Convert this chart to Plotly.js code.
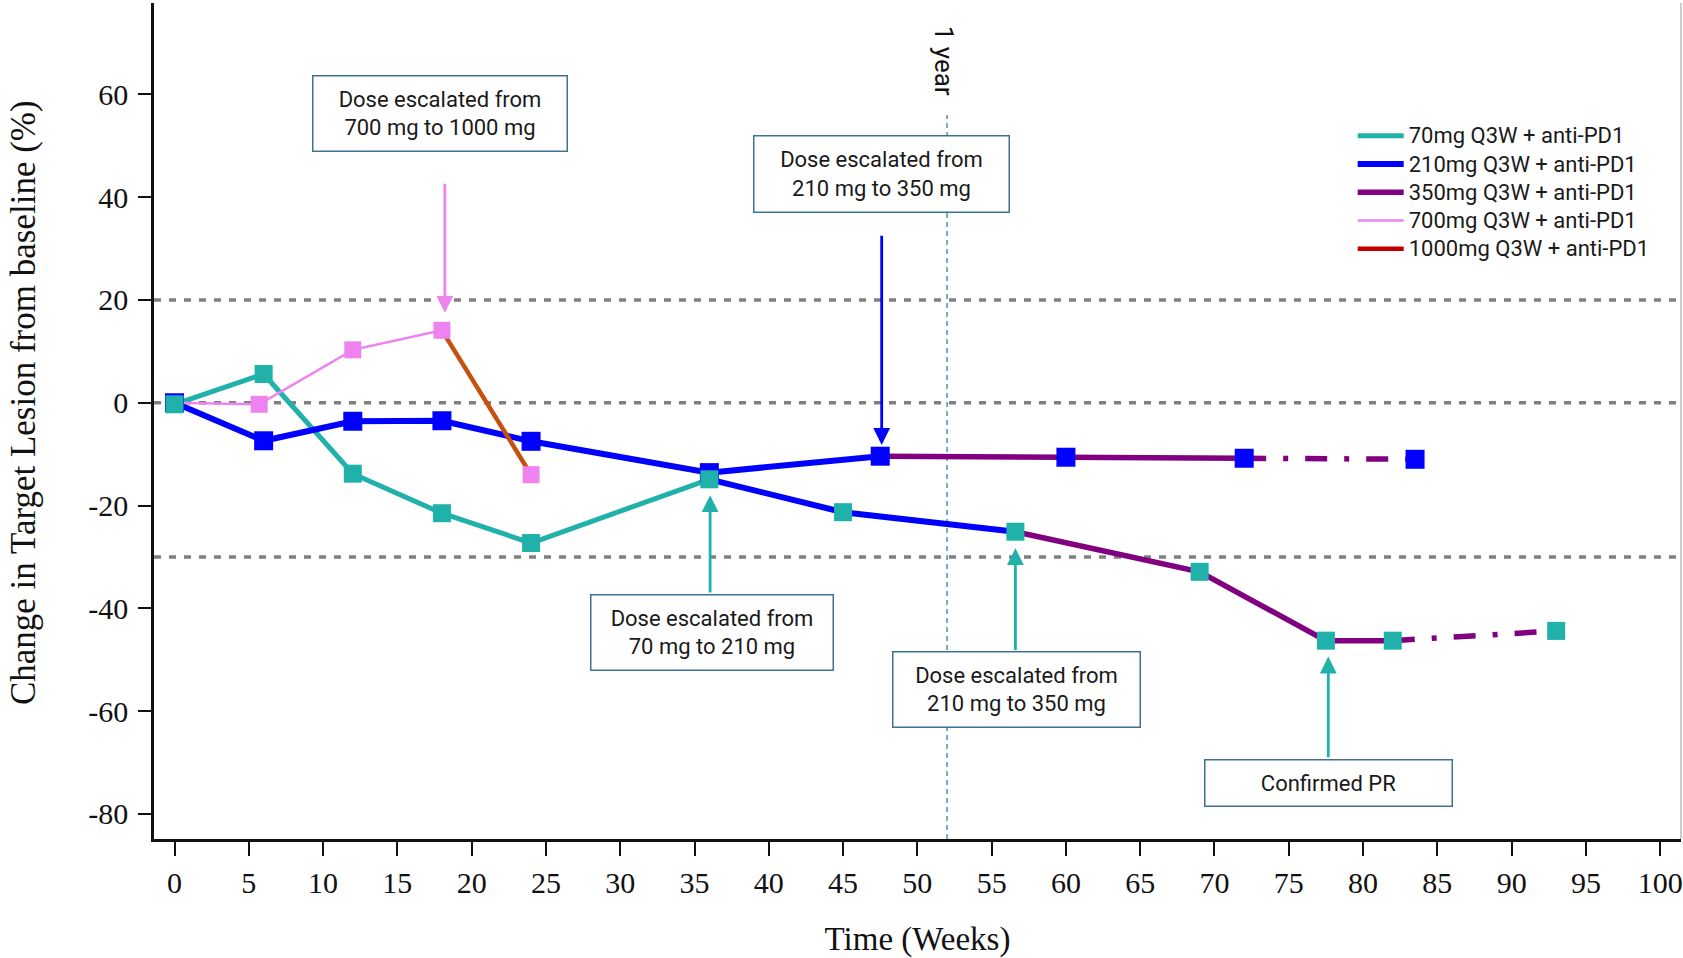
<!DOCTYPE html>
<html>
<head>
<meta charset="utf-8">
<script src="https://cdn.plot.ly/plotly-3.0.1.min.js"></script>
<style>
  html, body { margin: 0; padding: 0; background: #ffffff; }
  #chart { width: 1683px; height: 958px; }
</style>
</head>
<body>
<div id="chart"></div>
<script>
// ---------------- data ----------------
// Patient A: started on 70mg, escalated to 210mg (wk 36), then 350mg (wk ~56.6)
const weeksA = [0, 6, 12, 18, 24, 36, 45, 56.6, 69, 77.5, 82, 93];
const pctA   = [-0.3, 5.6, -13.8, -21.5, -27.3, -14.9, -21.3, -25.1, -32.9, -46.3, -46.3, -44.4];
// Patient B: started on 210mg, escalated to 350mg (wk 47.5)
const weeksB = [0, 6, 12, 18, 24, 36, 47.5, 60, 72, 83.5];
const pctB   = [0, -7.4, -3.6, -3.5, -7.5, -13.6, -10.4, -10.6, -10.8, -11.0];
// Patient C: started on 700mg, escalated to 1000mg (wk 18)
const weeksC = [0, 5.7, 12, 18, 24];
const pctC   = [0, -0.3, 10.3, 14.1, -14.0];

// dose segments: [first index, last index, dose, solid/followup]
const segA = [[0, 5, '70mg', 'solid'], [5, 7, '210mg', 'solid'], [7, 10, '350mg', 'solid'], [10, 11, '350mg', 'followup']];
const segB = [[0, 6, '210mg', 'solid'], [6, 8, '350mg', 'solid'], [8, 9, '350mg', 'followup']];
const segC = [[0, 3, '700mg', 'solid'], [3, 4, '1000mg', 'solid']];

const doses = ['70mg', '210mg', '350mg', '700mg', '1000mg'];
const legendNames = ['70mg Q3W + anti-PD1', '210mg Q3W + anti-PD1', '350mg Q3W + anti-PD1',
                     '700mg Q3W + anti-PD1', '1000mg Q3W + anti-PD1'];

const xTicks = [0, 5, 10, 15, 20, 25, 30, 35, 40, 45, 50, 55, 60, 65, 70, 75, 80, 85, 90, 95, 100];
const yTicks = [-80, -60, -40, -20, 0, 20, 40, 60];
const refLines = [20, 0, -30];
const oneYear = 52;
const xTitle = 'Time (Weeks)';
const yTitle = 'Change in Target Lesion from baseline (%)';

// ---------------- styles ----------------
const doseColor = { '70mg': '#20B2AA', '210mg': '#0000FF', '350mg': '#800080', '700mg': '#EE82EE', '1000mg': '#C00000' };
const lineColor = { '70mg': '#20B2AA', '210mg': '#0000FF', '350mg': '#800080', '700mg': '#EE82EE', '1000mg': '#C5500F' };
const lineWidth = { '70mg': 5, '210mg': 6, '350mg': 5.5, '700mg': 2.5, '1000mg': 4.5 };
const FOLLOW_DASH = '22px,17px,5px,17px';
const serif = 'Liberation Serif, Times New Roman, serif';
const sans = 'Roboto, Arial, sans-serif';
const legendLabel = s => '<span style="font-size:22px">' + s + '</span>';

const traces = [];
const legendShown = {};

function addSegments(weeks, vals, segs) {
  segs.forEach(s => {
    const dose = s[2];
    const show = !legendShown[dose] && dose !== '1000mg';
    if (show) legendShown[dose] = true;
    traces.push({
      type: 'scatter', mode: 'lines',
      x: weeks.slice(s[0], s[1] + 1), y: vals.slice(s[0], s[1] + 1),
      line: { color: lineColor[dose], width: lineWidth[dose], dash: s[3] === 'followup' ? FOLLOW_DASH : 'solid' },
      name: legendLabel(legendNames[doses.indexOf(dose)]),
      legendrank: doses.indexOf(dose) + 1,
      showlegend: show, hoverinfo: 'x+y'
    });
  });
}
addSegments(weeksA, pctA, segA);
addSegments(weeksB, pctB, segB);
addSegments(weeksC, pctC, segC);

// legend entry for 1000mg (legend colour differs from drawn segment)
traces.push({
  type: 'scatter', mode: 'lines', x: [null], y: [null],
  line: { color: doseColor['1000mg'], width: 4.5 },
  name: legendLabel(legendNames[4]), legendrank: 5, showlegend: true, hoverinfo: 'skip'
});

function addMarkers(weeks, vals, color, size) {
  traces.push({
    type: 'scatter', mode: 'markers', x: weeks, y: vals,
    marker: { symbol: 'square', size: size, color: color },
    showlegend: false, hoverinfo: 'x+y'
  });
}
addMarkers(weeksC, pctC, doseColor['700mg'], 17);
addMarkers(weeksB, pctB, doseColor['210mg'], 19);
addMarkers(weeksA, pctA, doseColor['70mg'], 18);

// ---------------- shapes ----------------
const shapes = refLines.map(v => ({
  type: 'line', xref: 'paper', x0: 0, x1: 1, yref: 'y', y0: v, y1: v,
  line: { color: '#808080', width: 3.5, dash: '7px,8px' }, layer: 'below'
}));
shapes.push({
  type: 'line', xref: 'x', x0: oneYear, x1: oneYear, yref: 'y', y0: -84.9, y1: 56,
  line: { color: '#3A7CA5', width: 1.3, dash: '5px,4px' }, layer: 'below'
});
shapes.push({
  type: 'line', xref: 'paper', x0: 1, x1: 1, yref: 'paper', y0: 0, y1: 1,
  line: { color: '#9a9a9a', width: 1 }, layer: 'below'
});

// ---------------- annotations ----------------
const boxFont = { family: sans, size: 22, color: '#1a1a1a' };
const boxBorder = '#3A7396';
function box(text, x, y, w, h) {
  return {
    text: text, x: x, y: y, xref: 'x', yref: 'y', xanchor: 'center', yanchor: 'middle',
    showarrow: false, font: boxFont, bgcolor: '#ffffff', bordercolor: boxBorder,
    borderwidth: 1.5, borderpad: 0, width: w - 3, height: h - 3, align: 'center'
  };
}
function arrow(x, yTip, yTail, color) {
  return {
    text: '', x: x, y: yTip, ax: x, ay: yTail, xref: 'x', yref: 'y', axref: 'x', ayref: 'y',
    showarrow: true, arrowhead: 2, arrowsize: 1.2, arrowwidth: 2.8, arrowcolor: color, standoff: 0
  };
}
const annotations = [
  box('Dose escalated from<br>700 mg to 1000 mg', 17.9, 56.3, 256, 77),
  box('Dose escalated from<br>210 mg to 350 mg', 47.58, 44.6, 257, 78),
  box('Dose escalated from<br>70 mg to 210 mg', 36.2, -44.7, 244, 77),
  box('Dose escalated from<br>210 mg to 350 mg', 56.66, -55.9, 249, 77),
  box('Confirmed PR', 77.7, -74.0, 249, 48),
  arrow(18.2, 17.5, 42.9, doseColor['700mg']),
  arrow(47.6, -8.2, 32.8, doseColor['210mg']),
  arrow(36.05, -18.0, -37.2, doseColor['70mg']),
  arrow(56.6, -28.3, -48.4, doseColor['70mg']),
  arrow(77.66, -49.4, -69.3, doseColor['70mg']),
  {
    text: '1 year', x: 51.85, y: 66.6, xref: 'x', yref: 'y', showarrow: false, textangle: 90,
    font: { family: sans, size: 26, color: '#111111' }
  },
  // y-axis title (placed slightly above the plot centre, as in the original)
  {
    text: yTitle, xref: 'paper', yref: 'paper', x: -0.0855, y: 0.522,
    xanchor: 'center', yanchor: 'middle', showarrow: false, textangle: -90,
    font: { family: serif, size: 35, color: '#111111' }
  }
];

const layout = {
  width: 1683, height: 958,
  margin: { l: 153.5, r: 2, t: 3, b: 119 },
  paper_bgcolor: '#ffffff', plot_bgcolor: '#ffffff',
  showlegend: true,
  legend: {
    x: 0.785, y: 0.864, xanchor: 'left', yanchor: 'top',
    font: { family: sans, size: 19.4, color: '#1a1a1a' }, itemwidth: 46,
    bgcolor: 'rgba(0,0,0,0)', traceorder: 'normal', tracegroupgap: 0
  },
  xaxis: {
    range: [-1.38, 101.4], tickvals: xTicks, ticktext: xTicks.map(String),
    showgrid: false, zeroline: false, showline: true, linecolor: '#111111', linewidth: 2.5,
    ticks: 'outside', ticklen: 14, tickwidth: 2, tickcolor: '#111111',
    tickfont: { family: serif, size: 30, color: '#111111' }, ticklabelstandoff: 1,
    title: { text: xTitle, font: { family: serif, size: 33, color: '#111111' }, standoff: 32 }
  },
  yaxis: {
    range: [-84.9, 77.8], tickvals: yTicks, ticktext: yTicks.map(String),
    showgrid: false, zeroline: false, showline: true, linecolor: '#111111', linewidth: 2.5,
    ticks: 'outside', ticklen: 13, tickwidth: 2, tickcolor: '#111111',
    tickfont: { family: serif, size: 30, color: '#111111' }, ticklabelstandoff: 4
  },
  shapes: shapes,
  annotations: annotations
};

Plotly.newPlot('chart', traces, layout, { displayModeBar: false });
</script>
</body>
</html>
